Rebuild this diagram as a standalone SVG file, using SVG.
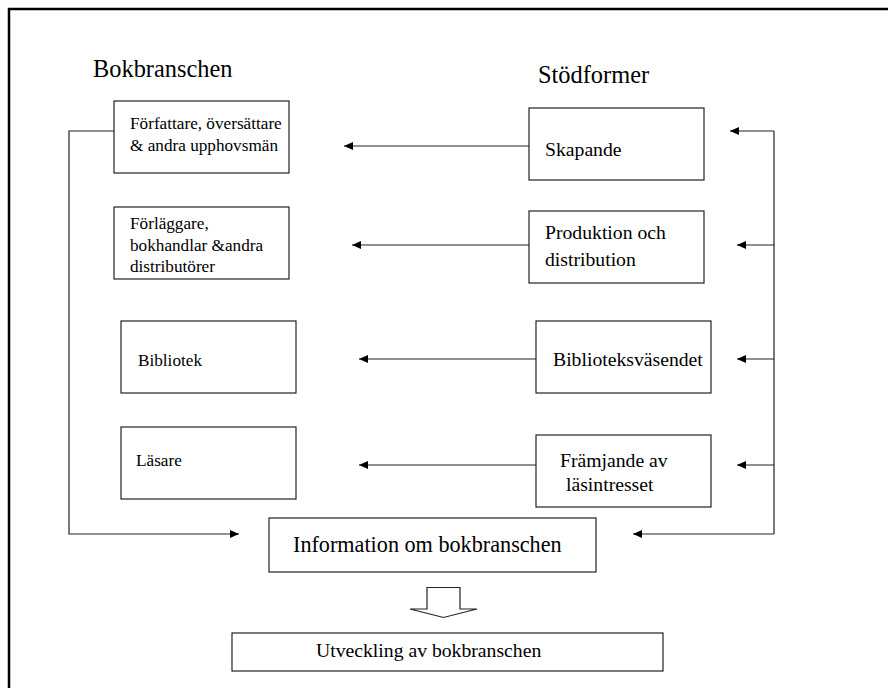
<svg xmlns="http://www.w3.org/2000/svg" width="888" height="688" viewBox="0 0 888 688">
<style>
  .box { fill: #fff; stroke: #222; stroke-width: 1.2; }
  .t { font-family: 'Liberation Serif', 'Times New Roman', Times, 'DejaVu Serif', serif; fill: #000; }
  .s17 { font-size: 17.2px; }
  .s20 { font-size: 19.7px; }
  .con { fill: none; stroke: #222; stroke-width: 1.2; }
  .frame { fill: none; stroke: #000; stroke-width: 2.5; }
</style>
<defs>
  <marker id="ah" markerWidth="10" markerHeight="9" refX="9" refY="4.5" orient="auto" markerUnits="userSpaceOnUse">
    <path d="M0,0.5 L9,4.5 L0,8.5 z" fill="#000"/>
  </marker>
</defs>
<rect width="888" height="688" fill="#fff"/>
<path class="frame" d="M9,688 L9,9 L888,9"/>

<g font-family="Liberation Serif, Times New Roman, serif">
<text class="t" x="93" y="77" font-size="24.4">Bokbranschen</text>
<text class="t" x="538" y="83" font-size="24.4">Stödformer</text>

<g id="forfattare">
  <rect class="box" x="114" y="101" width="175" height="72"/>
  <text class="t s17" x="130" y="129">Författare, översättare</text>
  <text class="t s17" x="130" y="150.7">&amp; andra upphovsmän</text>
</g>
<g id="forlaggare">
  <rect class="box" x="114" y="207" width="175" height="72"/>
  <text class="t s17" x="130" y="229">Förläggare,</text>
  <text class="t s17" x="130" y="250.7">bokhandlar &amp;andra</text>
  <text class="t s17" x="130" y="271.7">distributörer</text>
</g>
<g id="bibliotek">
  <rect class="box" x="121" y="321" width="175" height="72"/>
  <text class="t s17" x="138" y="365.7">Bibliotek</text>
</g>
<g id="lasare">
  <rect class="box" x="121" y="427" width="175" height="72"/>
  <text class="t s17" x="136" y="466">Läsare</text>
</g>
<g id="skapande">
  <rect class="box" x="529" y="108" width="175" height="72"/>
  <text class="t s20" x="545" y="156">Skapande</text>
</g>
<g id="produktion">
  <rect class="box" x="529" y="211" width="175" height="72"/>
  <text class="t s20" x="545" y="238.7">Produktion och</text>
  <text class="t s20" x="545" y="265.7">distribution</text>
</g>
<g id="biblioteksvasendet">
  <rect class="box" x="536" y="321" width="175" height="72"/>
  <text class="t s20" x="553" y="365.7">Biblioteksväsendet</text>
</g>
<g id="framjande">
  <rect class="box" x="536" y="435" width="175" height="72"/>
  <text class="t s20" x="560" y="466.7">Främjande av</text>
  <text class="t s20" x="566" y="490.7">läsintresset</text>
</g>
<g id="information">
  <rect class="box" x="269" y="518" width="327" height="54"/>
  <text class="t" x="293" y="552.3" font-size="22.2">Information om bokbranschen</text>
</g>
<g id="utveckling">
  <rect class="box" x="232" y="633" width="431" height="38"/>
  <text class="t s20" x="316" y="657.3">Utveckling av bokbranschen</text>
</g>
</g>

<g id="connectors">
  <polyline class="con" points="114,131 69,131 69,534 239,534" marker-end="url(#ah)"/>
  <line class="con" x1="774" y1="131" x2="774" y2="534"/>
  <line class="con" x1="774" y1="131" x2="730" y2="131" marker-end="url(#ah)"/>
  <line class="con" x1="774" y1="245" x2="737" y2="245" marker-end="url(#ah)"/>
  <line class="con" x1="774" y1="359" x2="737" y2="359" marker-end="url(#ah)"/>
  <line class="con" x1="774" y1="465" x2="737" y2="465" marker-end="url(#ah)"/>
  <line class="con" x1="774" y1="534" x2="633" y2="534" marker-end="url(#ah)"/>
  <line class="con" x1="529" y1="146" x2="344" y2="146" marker-end="url(#ah)"/>
  <line class="con" x1="529" y1="245" x2="352" y2="245" marker-end="url(#ah)"/>
  <line class="con" x1="536" y1="359" x2="359" y2="359" marker-end="url(#ah)"/>
  <line class="con" x1="536" y1="465" x2="359" y2="465" marker-end="url(#ah)"/>
  <polygon class="con" fill="#fff" points="427,587.5 460,587.5 460,609 477,609 443.5,617.5 410,609 427,609"/>
</g>
</svg>
